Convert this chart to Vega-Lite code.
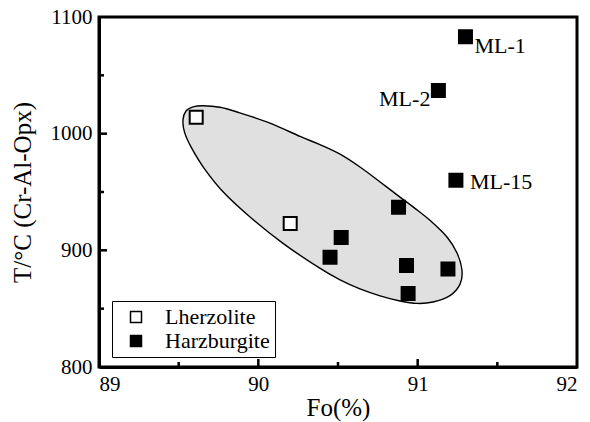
{
  "$schema": "https://vega.github.io/schema/vega-lite/v6.json",
  "autosize": "none",
  "width": 478,
  "height": 350,
  "padding": {"left": 99, "top": 17, "right": 13, "bottom": 55},
  "background": "white",
  "config": {
    "view": {"stroke": "black", "strokeWidth": 3},
    "font": "Liberation Serif",
    "style": {"guide-label": {"font": "Liberation Serif"}, "guide-title": {"font": "Liberation Serif"}},
    "legend": {"labelFont": "Liberation Serif"},
    "axis": {
      "domainColor": "black",
      "domainWidth": 3,
      "ticks": false,
      "grid": false,
      "labelFont": "Liberation Serif",
      "labelFontSize": 21,
      "labelColor": "black",
      "titleFont": "Liberation Serif",
      "titleFontSize": 25,
      "titleFontWeight": "normal",
      "titleColor": "black"
    }
  },
  "datasets": {
    "samples": [
      {"fo": 89.61, "t": 1014, "rock": "Lherzolite", "label": ""},
      {"fo": 90.20, "t": 923, "rock": "Lherzolite", "label": ""},
      {"fo": 91.30, "t": 1083, "rock": "Harzburgite", "label": "ML-1"},
      {"fo": 91.13, "t": 1037, "rock": "Harzburgite", "label": "ML-2"},
      {"fo": 91.24, "t": 960, "rock": "Harzburgite", "label": "ML-15"},
      {"fo": 90.88, "t": 937, "rock": "Harzburgite", "label": ""},
      {"fo": 90.52, "t": 911, "rock": "Harzburgite", "label": ""},
      {"fo": 90.45, "t": 894, "rock": "Harzburgite", "label": ""},
      {"fo": 90.93, "t": 887, "rock": "Harzburgite", "label": ""},
      {"fo": 90.94, "t": 863, "rock": "Harzburgite", "label": ""},
      {"fo": 91.19, "t": 884, "rock": "Harzburgite", "label": ""}
    ],
    "field": [
      {"i": 1, "fo": 89.527, "t": 1011.7},
      {"i": 2, "fo": 89.546, "t": 1019.4},
      {"i": 3, "fo": 89.590, "t": 1022.9},
      {"i": 4, "fo": 89.653, "t": 1023.9},
      {"i": 5, "fo": 89.759, "t": 1022.6},
      {"i": 6, "fo": 89.866, "t": 1018.6},
      {"i": 7, "fo": 90.073, "t": 1009.1},
      {"i": 8, "fo": 90.262, "t": 997.6},
      {"i": 9, "fo": 90.387, "t": 990.6},
      {"i": 10, "fo": 90.513, "t": 982.4},
      {"i": 11, "fo": 90.638, "t": 971.4},
      {"i": 12, "fo": 90.764, "t": 958.6},
      {"i": 13, "fo": 90.889, "t": 945.6},
      {"i": 14, "fo": 90.983, "t": 936.0},
      {"i": 15, "fo": 91.077, "t": 925.7},
      {"i": 16, "fo": 91.184, "t": 911.4},
      {"i": 17, "fo": 91.247, "t": 897.7},
      {"i": 18, "fo": 91.278, "t": 883.1},
      {"i": 19, "fo": 91.266, "t": 871.0},
      {"i": 20, "fo": 91.203, "t": 861.2},
      {"i": 21, "fo": 91.096, "t": 855.7},
      {"i": 22, "fo": 90.996, "t": 854.5},
      {"i": 23, "fo": 90.889, "t": 856.6},
      {"i": 24, "fo": 90.764, "t": 861.0},
      {"i": 25, "fo": 90.638, "t": 866.9},
      {"i": 26, "fo": 90.513, "t": 874.6},
      {"i": 27, "fo": 90.368, "t": 886.2},
      {"i": 28, "fo": 90.155, "t": 906.0},
      {"i": 29, "fo": 89.948, "t": 928.6},
      {"i": 30, "fo": 89.780, "t": 950.0},
      {"i": 31, "fo": 89.660, "t": 970.3},
      {"i": 32, "fo": 89.580, "t": 988.0},
      {"i": 33, "fo": 89.537, "t": 1001.1}
    ],
    "xMajor": [{"fo": 90, "t": 800}, {"fo": 91, "t": 800}],
    "xMinor": [{"fo": 89.5, "t": 800}, {"fo": 90.5, "t": 800}, {"fo": 91.5, "t": 800}],
    "yMajor": [{"fo": 89, "t": 900}, {"fo": 89, "t": 1000}],
    "yMinor": [{"fo": 89, "t": 850}, {"fo": 89, "t": 950}, {"fo": 89, "t": 1050}]
  },
  "encoding": {
    "x": {
      "field": "fo",
      "type": "quantitative",
      "title": "Fo(%)",
      "scale": {"domain": [89, 92], "nice": false, "zero": false},
      "axis": {
        "values": [89, 90, 91, 92],
        "format": ".0f",
        "labelPadding": 6,
        "titlePadding": 1
      }
    },
    "y": {
      "field": "t",
      "type": "quantitative",
      "title": "T/°C (Cr-Al-Opx)",
      "scale": {"domain": [800, 1100], "nice": false, "zero": false},
      "axis": {
        "values": [800, 900, 1000, 1100],
        "format": "d",
        "labelPadding": 7,
        "titlePadding": 15
      }
    }
  },
  "layer": [
    {
      "data": {"name": "field"},
      "mark": {
        "type": "line",
        "interpolate": "cardinal-closed",
        "fill": "#e0e0e0",
        "stroke": "black",
        "strokeWidth": 1.4
      },
      "encoding": {
        "order": {"field": "i", "type": "quantitative"}
      }
    },
    {
      "data": {"name": "xMajor"},
      "mark": {"type": "point", "shape": "M0,0V-1", "size": 256, "filled": false, "stroke": "black", "strokeWidth": 2.5, "opacity": 1}
    },
    {
      "data": {"name": "xMinor"},
      "mark": {"type": "point", "shape": "M0,0V-1", "size": 100, "filled": false, "stroke": "black", "strokeWidth": 2.5, "opacity": 1}
    },
    {
      "data": {"name": "yMajor"},
      "mark": {"type": "point", "shape": "M0,0H1", "size": 256, "filled": false, "stroke": "black", "strokeWidth": 2.5, "opacity": 1}
    },
    {
      "data": {"name": "yMinor"},
      "mark": {"type": "point", "shape": "M0,0H1", "size": 100, "filled": false, "stroke": "black", "strokeWidth": 2.5, "opacity": 1}
    },
    {
      "data": {"name": "samples"},
      "mark": {"type": "point", "shape": "square", "filled": true, "size": 169, "stroke": "black", "strokeWidth": 2, "opacity": 1},
      "encoding": {
        "fill": {
          "field": "rock",
          "type": "nominal",
          "scale": {"domain": ["Lherzolite", "Harzburgite"], "range": ["white", "black"]},
          "legend": {
            "title": null,
            "orient": "none",
            "legendX": 13,
            "legendY": 284,
            "direction": "vertical",
            "strokeColor": "black",
            "fillColor": "white",
            "padding": 5,
            "symbolType": "square",
            "symbolSize": 121,
            "symbolStrokeColor": "black",
            "symbolStrokeWidth": 1.5,
            "symbolOffset": 8,
            "labelFont": "Liberation Serif",
            "labelFontSize": 22,
            "labelColor": "black",
            "labelOffset": 18,
            "rowPadding": 2
          }
        }
      }
    },
    {
      "data": {"name": "samples"},
      "transform": [{"filter": "datum.label === 'ML-1'"}],
      "mark": {"type": "text", "align": "left", "baseline": "middle", "dx": 9, "dy": 9, "fontSize": 22, "font": "Liberation Serif", "color": "black"},
      "encoding": {"text": {"field": "label"}}
    },
    {
      "data": {"name": "samples"},
      "transform": [{"filter": "datum.label === 'ML-2'"}],
      "mark": {"type": "text", "align": "right", "baseline": "middle", "dx": -8, "dy": 8, "fontSize": 22, "font": "Liberation Serif", "color": "black"},
      "encoding": {"text": {"field": "label"}}
    },
    {
      "data": {"name": "samples"},
      "transform": [{"filter": "datum.label === 'ML-15'"}],
      "mark": {"type": "text", "align": "left", "baseline": "middle", "dx": 14, "dy": 2, "fontSize": 22, "font": "Liberation Serif", "color": "black"},
      "encoding": {"text": {"field": "label"}}
    }
  ]
}
